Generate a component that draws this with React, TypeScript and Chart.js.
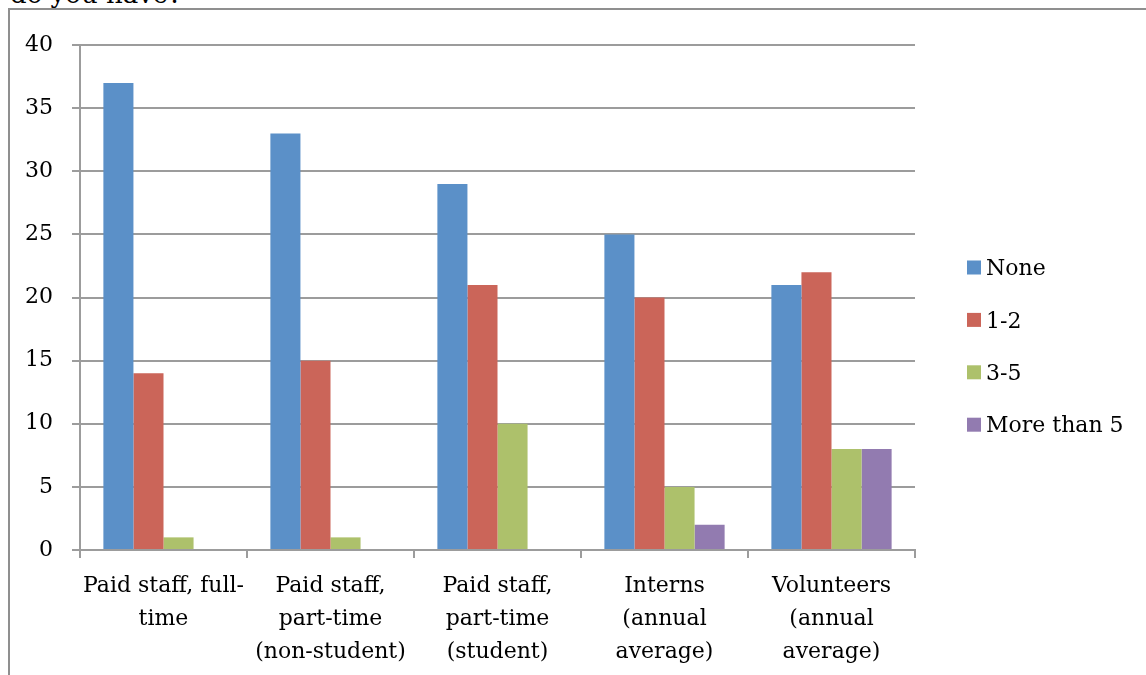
import React, { useEffect, useRef } from "react";
import { Chart, registerables } from "chart.js";

Chart.register(...registerables);

const categories: string[][] = [
  ["Paid staff, full-", "time"],
  ["Paid staff,", "part-time", "(non-student)"],
  ["Paid staff,", "part-time", "(student)"],
  ["Interns", "(annual", "average)"],
  ["Volunteers", "(annual", "average)"],
];
const seriesNames = ["None", "1-2", "3-5", "More than 5"];
const noneValues = [37, 33, 29, 25, 21];
const oneTwoValues = [14, 15, 21, 20, 22];
const threeFiveValues = [1, 1, 10, 5, 8];
const moreThanFiveValues = [0, 0, 0, 2, 8];
const seriesColors = ["#5b90c8", "#cb6559", "#adc16b", "#927bb0"];
const yTicks = [0, 5, 10, 15, 20, 25, 30, 35, 40];

const FONT = "'DejaVu Serif', serif";
const FS = 22;

const legendPlugin = {
  id: "customLegend",
  afterDraw(chart: any) {
    const ctx = chart.ctx;
    const area = chart.chartArea;
    ctx.save();
    ctx.font = `${FS}px ${FONT}`;
    ctx.textBaseline = "middle";
    ctx.textAlign = "left";
    const x0 = area.right + 52;
    const yStart = 257.5;
    const step = 52.4;
    chart.data.datasets.forEach((ds: any, i: number) => {
      const cy = yStart + i * step;
      ctx.fillStyle = ds.backgroundColor;
      ctx.fillRect(x0, cy - 7, 14, 14);
      ctx.fillStyle = "#000";
      ctx.fillText(ds.label, x0 + 19, cy + 2);
    });
    ctx.restore();
  },
};

export default function App() {
  const ref = useRef<HTMLCanvasElement | null>(null);

  useEffect(() => {
    if (!ref.current) return;
    const values = [noneValues, oneTwoValues, threeFiveValues, moreThanFiveValues];
    const chart = new Chart(ref.current, {
      type: "bar",
      data: {
        labels: categories,
        datasets: seriesNames.map((name, i) => ({
          label: name,
          data: values[i],
          backgroundColor: seriesColors[i],
          borderWidth: 0,
          categoryPercentage: 0.72,
          barPercentage: 1,
        })),
      },
      options: {
        responsive: false,
        animation: false,
        devicePixelRatio: 1,
        layout: { padding: { top: 35, right: 231, left: 0, bottom: 0 } },
        plugins: {
          legend: { display: false },
          tooltip: { enabled: false },
        },
        scales: {
          x: {
            offset: true,
            grid: {
              display: true,
              drawOnChartArea: false,
              drawTicks: true,
              tickLength: 8,
              color: "#9c9c9c",
              lineWidth: 2,
              offset: true,
            },
            border: { display: true, color: "#9c9c9c", width: 2 },
            ticks: {
              color: "#000",
              padding: 12,
              maxRotation: 0,
              autoSkip: false,
              font: { family: FONT, size: FS, lineHeight: 33 / FS },
            },
            afterFit: (scale: any) => {
              scale.height = 125;
            },
          },
          y: {
            min: 0,
            max: 40,
            afterBuildTicks: (scale: any) => {
              scale.ticks = yTicks.map((v) => ({ value: v }));
            },
            grid: {
              color: "#9c9c9c",
              lineWidth: 2,
              drawTicks: true,
              tickLength: 8,
            },
            border: { display: true, color: "#9c9c9c", width: 2 },
            ticks: {
              color: "#000",
              padding: 19,
              font: { family: FONT, size: FS },
            },
            afterFit: (scale: any) => {
              scale.width = 70;
            },
          },
        },
      },
      plugins: [legendPlugin],
    });
    return () => chart.destroy();
  }, []);

  return (
    <div
      style={{
        position: "fixed",
        left: 0,
        top: 0,
        width: 1146,
        height: 675,
        overflow: "hidden",
        background: "#fff",
      }}
    >
      <div
        style={{
          position: "absolute",
          left: 10,
          top: -19,
          fontFamily: FONT,
          fontSize: 26,
          lineHeight: "26px",
          color: "#000",
          whiteSpace: "nowrap",
        }}
      >
        do you have?
      </div>
      <div
        style={{
          position: "absolute",
          left: 8,
          top: 8,
          width: 1200,
          height: 700,
          borderLeft: "2px solid #8f8f8f",
          borderTop: "2px solid #8f8f8f",
          background: "#fff",
        }}
      />
      <canvas
        ref={ref}
        width={1136}
        height={665}
        style={{ position: "absolute", left: 10, top: 10, width: 1136, height: 665 }}
      />
    </div>
  );
}
